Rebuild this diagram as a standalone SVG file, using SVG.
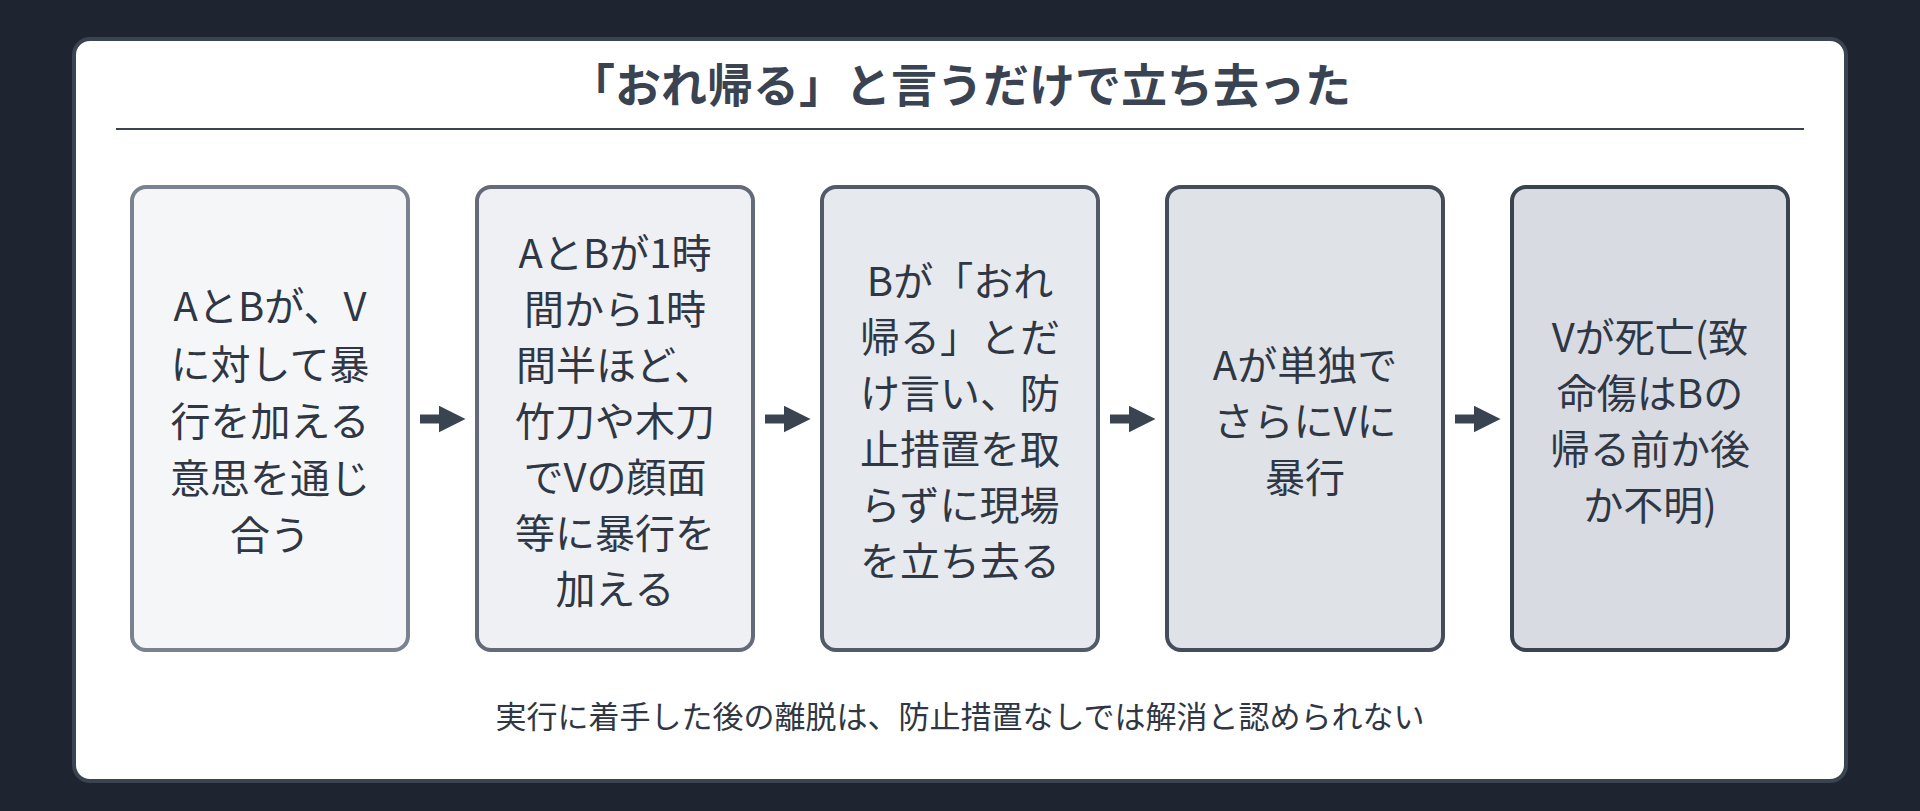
<svg xmlns="http://www.w3.org/2000/svg" width="1920" height="811" viewBox="0 0 1920 811">
<defs>
<style>
text{font-family:"Noto Sans CJK JP","Noto Sans",sans-serif;fill:#2f3744;text-anchor:middle}
.t{font-size:46px;font-weight:bold;fill:#3a4352}
.b{font-size:40px;dominant-baseline:central}
.f{font-size:31px;dominant-baseline:central}
.box{stroke-width:4}
</style>
<marker id="ah" viewBox="0 0 10 10" refX="5" refY="5" markerWidth="3" markerHeight="3" orient="auto" markerUnits="strokeWidth"><path d="M0,0 L10,5 L0,10 z" fill="#3a4350"/></marker>
</defs>
<rect width="1920" height="811" fill="#1e2530"/>
<rect x="74" y="39" width="1772" height="742" rx="16" fill="#ffffff" stroke="#3a4350" stroke-width="4"/>
<text class="t" x="960" y="102">「おれ帰る」と言うだけで立ち去った</text>
<line x1="116" y1="129" x2="1804" y2="129" stroke="#3a4350" stroke-width="2"/>
<g id="connectors" stroke="#3a4350" stroke-width="9" marker-end="url(#ah)">
<line x1="420" y1="419" x2="452" y2="419"/>
<line x1="765" y1="419" x2="797" y2="419"/>
<line x1="1110" y1="419" x2="1142" y2="419"/>
<line x1="1455" y1="419" x2="1487" y2="419"/>
</g>
<g id="n1"><rect class="box" x="132" y="187" width="276" height="463" rx="14" fill="#f5f6f8" stroke="#7a8290"/>
<text class="b" x="270"><tspan x="270" y="304">AとBが、V</tspan><tspan x="270" y="362">に対して暴</tspan><tspan x="270" y="419">行を加える</tspan><tspan x="270" y="476">意思を通じ</tspan><tspan x="270" y="533">合う</tspan></text></g>
<g id="n2"><rect class="box" x="477" y="187" width="276" height="463" rx="14" fill="#eef0f3" stroke="#636b78"/>
<text class="b"><tspan x="615" y="251">AとBが1時</tspan><tspan x="615" y="307">間から1時</tspan><tspan x="615" y="363">間半ほど、</tspan><tspan x="615" y="419">竹刀や木刀</tspan><tspan x="615" y="475">でVの顔面</tspan><tspan x="615" y="531">等に暴行を</tspan><tspan x="615" y="587">加える</tspan></text></g>
<g id="n3"><rect class="box" x="822" y="187" width="276" height="463" rx="14" fill="#e6e9ed" stroke="#535b68"/>
<text class="b"><tspan x="960" y="279">Bが「おれ</tspan><tspan x="960" y="335">帰る」とだ</tspan><tspan x="960" y="391">け言い、防</tspan><tspan x="960" y="447">止措置を取</tspan><tspan x="960" y="503">らずに現場</tspan><tspan x="960" y="559">を立ち去る</tspan></text></g>
<g id="n4"><rect class="box" x="1167" y="187" width="276" height="463" rx="14" fill="#dfe2e7" stroke="#454d5a"/>
<text class="b"><tspan x="1305" y="363">Aが単独で</tspan><tspan x="1305" y="419">さらにVに</tspan><tspan x="1305" y="475">暴行</tspan></text></g>
<g id="n5"><rect class="box" x="1512" y="187" width="276" height="463" rx="14" fill="#d8dbe2" stroke="#3a4350"/>
<text class="b"><tspan x="1650" y="335">Vが死亡(致</tspan><tspan x="1650" y="391">命傷はBの</tspan><tspan x="1650" y="447">帰る前か後</tspan><tspan x="1650" y="503">か不明)</tspan></text></g>
<text class="f" x="960" y="714">実行に着手した後の離脱は、防止措置なしでは解消と認められない</text>
</svg>
